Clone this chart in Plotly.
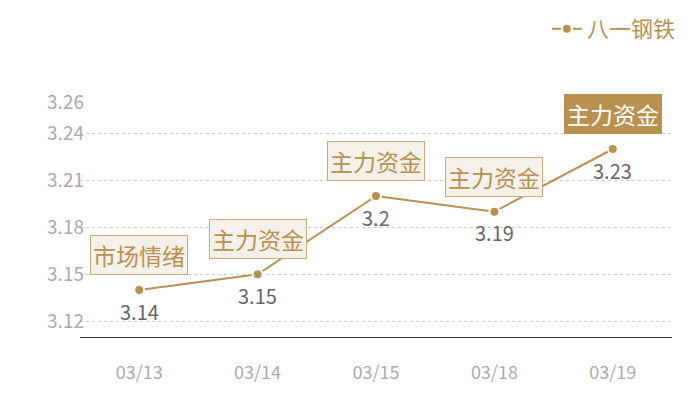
import plotly.graph_objects as go

dates = ["03/13", "03/14", "03/15", "03/18", "03/19"]
prices = [3.14, 3.15, 3.2, 3.19, 3.23]
tags = ["市场情绪", "主力资金", "主力资金", "主力资金", "主力资金"]
highlight = [False, False, False, False, True]
ytick_vals = [3.12, 3.15, 3.18, 3.21, 3.24, 3.26]
series_name = "八一钢铁"

GOLD = "#b8904f"
FONT = "Noto Sans CJK SC"

fig = go.Figure()
fig.add_trace(go.Scatter(
    x=dates, y=prices, name=series_name,
    mode="lines+markers",
    line=dict(color=GOLD, width=2),
    marker=dict(size=10, color=GOLD, line=dict(color="white", width=2)),
))

for d, p, t, h in zip(dates, prices, tags, highlight):
    fig.add_annotation(
        x=d, y=p, text=t, showarrow=False, yshift=35,
        font=dict(size=23, color="white" if h else GOLD, family=FONT),
        bgcolor=GOLD if h else "#f4f0ea",
        bordercolor=GOLD if h else "#caa877",
        borderwidth=1, borderpad=2,
    )
    fig.add_annotation(
        x=d, y=p, text=str(p), showarrow=False, yshift=-21,
        font=dict(size=20, color="#666666", family=FONT),
    )

fig.update_layout(
    width=700, height=400,
    margin=dict(l=72, r=36, t=94, b=71, autoexpand=False),
    paper_bgcolor="white", plot_bgcolor="white",
    font=dict(family=FONT),
    showlegend=True,
    legend=dict(
        orientation="h", x=1.015, xanchor="right", y=1.4, yanchor="top",
        font=dict(size=22, color=GOLD, family=FONT),
        itemwidth=30, bgcolor="rgba(0,0,0,0)",
    ),
    xaxis=dict(
        type="category", range=[-0.5, 4.5],
        showgrid=False, showline=True, linecolor="#333333", linewidth=1,
        ticks="", tickfont=dict(size=18, color="#aaaaaa"),
        ticklabelstandoff=19,
    ),
    yaxis=dict(
        range=[3.11, 3.26], tickvals=ytick_vals,
        ticktext=[f"{v:.2f}" for v in ytick_vals],
        showgrid=True, gridcolor="#cccccc", griddash="dot", gridwidth=1,
        zeroline=False, showline=False, ticks="",
        tickfont=dict(size=19, color="#aaaaaa"),
        ticklabelstandoff=-5,
    ),
)

fig.write_html("out.html")
